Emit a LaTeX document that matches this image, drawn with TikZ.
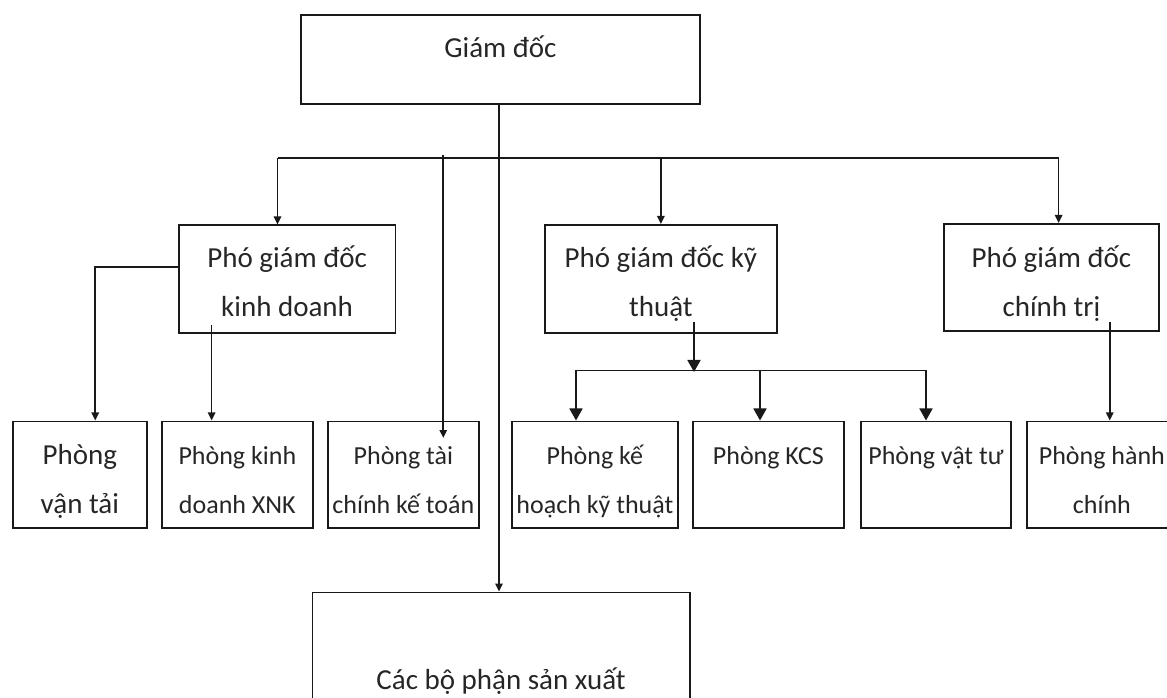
\documentclass[tikz,border=0pt]{standalone}
\usepackage{fontspec}
\setmainfont{Carlito}
\usetikzlibrary{arrows.meta}
\begin{document}
\begin{tikzpicture}[x=0.75pt,y=-0.75pt,
  box/.style={draw=black!90, line width=1.3pt, anchor=north west, inner sep=0pt, shape=rectangle},
  bigf/.style={font=\fontsize{21.75pt}{36.5pt}\selectfont, text=black!85, anchor=base, inner sep=0pt},
  smallf/.style={font=\fontsize{19.5pt}{36.5pt}\selectfont, text=black!85, anchor=base, inner sep=0pt},
  conn/.style={line width=1.3pt, draw=black!90},
  arr/.style={conn, -{Triangle[width=5.5pt,length=6pt]}},
  arrB/.style={conn, -{Triangle[width=9.75pt,length=9pt]}},
]
\useasboundingbox (0,0) rectangle (1167,698);
\clip (0,0) rectangle (1167,698);

% boxes
\node[box, minimum width=399*0.75pt, minimum height=89*0.75pt,
  label={[bigf, yshift=-44*0.75pt]north:{Giám đốc}}] (gd) at (300,14) {};
\node[box, minimum width=216.5*0.75pt, minimum height=107.5*0.75pt,
  label={[bigf, yshift=-43.5*0.75pt]north:{\begin{tabular}[t]{@{}c@{}}Phó giám đốc\\kinh doanh\end{tabular}}}] (pkd) at (178,224.5) {};
\node[box, minimum width=232*0.75pt, minimum height=108*0.75pt,
  label={[bigf, yshift=-44*0.75pt]north:{\begin{tabular}[t]{@{}c@{}}Phó giám đốc kỹ\\thuật\end{tabular}}}] (pkt) at (544,224) {};
\node[box, minimum width=215*0.75pt, minimum height=107*0.75pt,
  label={[bigf, yshift=-45*0.75pt]north:{\begin{tabular}[t]{@{}c@{}}Phó giám đốc\\chính trị\end{tabular}}}] (pct) at (943,223) {};

\node[box, minimum width=134*0.75pt, minimum height=106.5*0.75pt,
  label={[bigf, yshift=-44*0.75pt]north:{\begin{tabular}[t]{@{}c@{}}Phòng\\vận tải\end{tabular}}}] (vt) at (12,420.5) {};
\node[box, minimum width=151*0.75pt, minimum height=106.5*0.75pt,
  label={[smallf, yshift=-44*0.75pt]north:{\begin{tabular}[t]{@{}c@{}}Phòng kinh\\doanh XNK\end{tabular}}}] (xnk) at (161,420.5) {};
\node[box, minimum width=151*0.75pt, minimum height=106.5*0.75pt,
  label={[smallf, yshift=-44*0.75pt]north:{\begin{tabular}[t]{@{}c@{}}Phòng tài\\chính kế toán\end{tabular}}}] (tc) at (327,420.5) {};
\node[box, minimum width=166*0.75pt, minimum height=106.5*0.75pt,
  label={[smallf, yshift=-44*0.75pt]north:{\begin{tabular}[t]{@{}c@{}}Phòng kế\\hoạch kỹ thuật\end{tabular}}}] (khkt) at (511,420.5) {};
\node[box, minimum width=151*0.75pt, minimum height=106.5*0.75pt,
  label={[smallf, yshift=-44*0.75pt]north:{Phòng KCS}}] (kcs) at (692,420.5) {};
\node[box, minimum width=150*0.75pt, minimum height=106.5*0.75pt,
  label={[smallf, yshift=-44*0.75pt]north:{Phòng vật tư}}] (vtu) at (860,420.5) {};
\node[box, minimum width=150*0.75pt, minimum height=106.5*0.75pt,
  label={[smallf, yshift=-44*0.75pt]north:{\begin{tabular}[t]{@{}c@{}}Phòng hành\\chính\end{tabular}}}] (hc) at (1026,420.5) {};

\node[box, minimum width=377.5*0.75pt, minimum height=200*0.75pt,
  label={[bigf, yshift=-98*0.75pt]north:{Các bộ phận sản xuất}}] (cbp) at (311.5,591.5) {};

% connector coordinates
\coordinate (busL) at (277.5,158.3);
\coordinate (busR) at (1058.6,158.3);
\coordinate (tcA) at (443.3,155.5);
\coordinate (tcB) at (443.3,438);
\coordinate (vtA) at (95.3,267);
\coordinate (xnkA) at (211.6,325);
\coordinate (ktA) at (694,321.7);
\coordinate (ktB) at (694,372);
\coordinate (sbL) at (576,370.5);
\coordinate (sbM) at (760,370.5);
\coordinate (sbR) at (926,370.5);
\coordinate (ctA) at (1109.7,322);

% top level
\draw[arr] (gd.south -| 499,0) -- (cbp.north -| 499,0);
\draw[conn] (busL) -- (busR);
\draw[arr] (busL) -- (busL |- pkd.north);
\draw[arr] (pkt.north |- busL) -- (pkt.north);
\draw[arr] (busR) -- (busR |- pct.north);
\draw[arr] (tcA) -- (tcB);

% business branch
\draw[arr] (vtA -| pkd.west) -- (vtA) -- (vtA |- vt.north);
\draw[arr] (xnkA) -- (xnkA |- xnk.north);

% technical branch
\draw[arrB] (ktA) -- (ktB);
\draw[conn] (sbL) -- (sbR);
\draw[arrB] (sbL) -- (sbL |- khkt.north);
\draw[arrB] (sbM) -- (sbM |- kcs.north);
\draw[arrB] (sbR) -- (sbR |- vtu.north);

% political branch
\draw[arr] (ctA) -- (ctA |- hc.north);
\end{tikzpicture}
\end{document}
